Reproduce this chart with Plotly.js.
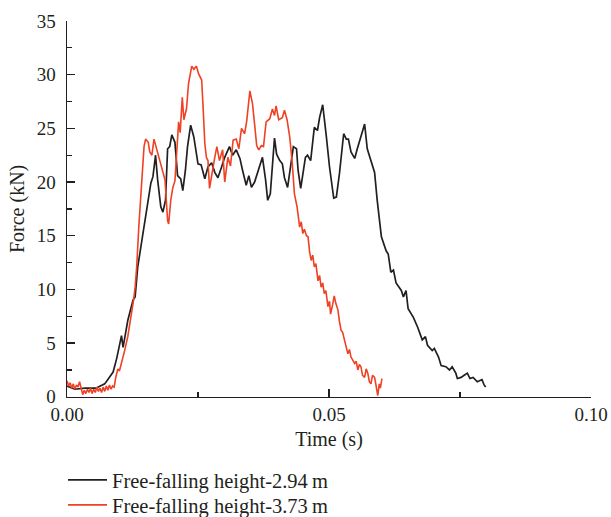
<!DOCTYPE html>
<html>
<head>
<meta charset="utf-8">
<script src="https://cdn.plot.ly/plotly-3.0.1.min.js"></script>
<style>html,body{margin:0;padding:0;background:#fff;}#chart{width:611px;height:517px;}</style>
</head>
<body>
<div id="chart"></div>
<script>
// Series names
const seriesNames = ["Free-falling height-2.94\u2009m", "Free-falling height-3.73\u2009m"];

// Black series: free-falling height 2.94 m (time in s, force in kN)
const blackT = [
0,0.0015,0.0034,0.0055,0.0072,0.0080,0.0088,0.0095,0.0104,0.0107,
0.0116,0.0126,0.0130,0.0135,0.0145,0.0154,0.0160,0.0164,0.0169,0.0173,
0.0179,0.0183,0.0188,0.0192,0.0196,0.0200,0.0206,0.0211,0.0217,0.0221,
0.0226,0.0230,0.0236,0.0242,0.0250,0.0256,0.0263,0.0269,0.0276,0.0282,
0.0288,0.0295,0.0301,0.0310,0.0316,0.0323,0.0330,0.0335,0.0342,0.0347,
0.0352,0.0358,0.0368,0.0373,0.0379,0.0383,0.0388,0.0392,0.0396,0.0400,
0.0406,0.0411,0.0415,0.0421,0.0428,0.0432,0.0438,0.0441,0.0446,0.0450,
0.0455,0.0459,0.0465,0.0472,0.0478,0.0482,0.0488,0.0495,0.0501,0.0509,
0.0514,0.0520,0.0528,0.0533,0.0537,0.0542,0.0549,0.0554,0.0560,0.0568,
0.0573,0.0580,0.0587,0.0592,0.0600,0.0609,0.0613,0.0618,0.0623,0.0628,
0.0634,0.0638,0.0642,0.0647,0.0651,0.0661,0.0669,0.0678,0.0684,0.0688,
0.0697,0.0701,0.0709,0.0714,0.0723,0.0730,0.0735,0.0742,0.0745,0.0752,
0.0758,0.0764,0.0769,0.0775,0.0783,0.0792,0.0796,0.0799];
const blackF = [
1.0,0.7,0.8,0.8,1.2,1.8,2.3,3.6,5.7,4.6,
7.1,9.0,9.3,12.1,15.2,18.0,19.9,20.5,22.5,20.2,
17.7,17.2,18.3,23.1,23.3,24.4,23.7,20.6,20.3,19.2,
21.1,23.3,25.3,24.2,21.7,21.6,20.3,21.4,21.8,20.9,
20.4,21.4,22.3,23.3,22.5,23.0,22.2,21.1,19.7,20.6,
19.5,20.0,21.4,22.3,20.2,18.3,18.9,21.4,24.1,22.6,
22.0,21.7,20.4,19.5,21.8,23.3,23.1,21.1,19.4,20.8,
22.3,22.5,22.0,25.1,24.8,26.0,27.2,24.2,21.4,18.5,
18.6,20.8,24.5,24.0,24.0,22.8,22.2,23.1,24.2,25.4,
23.1,22.0,20.9,18.3,14.9,13.6,13.3,11.6,11.8,10.6,
10.1,9.9,9.3,9.9,8.2,7.4,6.5,5.3,5.6,4.8,
4.3,4.5,3.7,2.9,2.8,2.5,2.8,2.2,1.7,1.8,
2.0,2.2,1.7,1.8,1.4,1.6,1.1,0.9];

// Red series: free-falling height 3.73 m
const redT = [
0,0.0003,0.0006,0.0009,0.0012,0.0015,0.0018,0.0021,0.0024,0.0027,
0.0030,0.0033,0.0036,0.0039,0.0042,0.0045,0.0048,0.0051,0.0054,0.0057,
0.0060,0.0063,0.0066,0.0069,0.0072,0.0075,0.0078,0.0081,0.0084,0.0087,
0.0090,0.0093,0.0097,0.0100,0.0104,0.0110,0.0116,0.0123,0.0127,0.0130,
0.0133,0.0137,0.0142,0.0147,0.0150,0.0155,0.0158,0.0162,0.0166,0.0171,
0.0175,0.0180,0.0187,0.0192,0.0194,0.0198,0.0202,0.0206,0.0209,0.0213,
0.0216,0.0220,0.0223,0.0228,0.0232,0.0238,0.0242,0.0247,0.0251,0.0257,
0.0260,0.0263,0.0266,0.0269,0.0272,0.0278,0.0282,0.0286,0.0291,0.0297,
0.0301,0.0307,0.0312,0.0317,0.0323,0.0328,0.0333,0.0339,0.0343,0.0349,
0.0354,0.0358,0.0362,0.0366,0.0371,0.0375,0.0380,0.0387,0.0392,0.0396,
0.0399,0.0404,0.0411,0.0415,0.0420,0.0425,0.0430,0.0434,0.0439,0.0444,
0.0447,0.0450,0.0453,0.0457,0.0460,0.0463,0.0466,0.0469,0.0472,0.0475,
0.0479,0.0482,0.0485,0.0488,0.0491,0.0494,0.0498,0.0501,0.0503,0.0507,
0.0510,0.0513,0.0517,0.0520,0.0523,0.0526,0.0530,0.0533,0.0536,0.0539,
0.0542,0.0545,0.0549,0.0552,0.0555,0.0558,0.0561,0.0564,0.0568,0.0571,
0.0574,0.0577,0.0580,0.0583,0.0587,0.0590,0.0593,0.0596,0.0598,0.0601];
const redF = [
1.5,1.0,1.3,0.8,1.2,0.7,1.1,0.9,1.4,0.8,
0.2,0.6,0.3,0.7,0.4,0.8,0.3,0.7,0.4,0.9,
0.5,0.8,0.4,0.9,0.5,1.0,0.6,1.1,0.7,1.0,
0.9,1.8,2.6,2.4,3.1,4.3,5.6,7.6,9.0,10.2,
12.1,15.8,19.5,23.3,24.0,23.7,22.8,22.5,24.0,23.1,
22.6,21.7,20.2,16.4,16.1,18.3,19.5,20.1,22.6,25.6,
24.6,27.9,25.8,26.8,29.2,30.8,30.5,30.8,30.1,29.5,
26.7,23.6,22.3,22.0,19.4,21.4,22.3,23.3,22.0,23.0,
20.0,22.3,21.5,23.9,24.0,23.1,25.0,24.5,25.7,28.5,
27.3,25.4,23.4,23.0,23.4,23.3,25.6,25.9,26.8,26.2,
27.1,25.8,26.0,26.7,25.8,24.2,21.7,18.9,17.7,15.8,
16.3,15.2,15.6,15.0,14.9,13.5,12.7,13.2,12.1,12.4,
10.8,11.3,10.2,10.6,9.6,9.9,8.4,8.9,7.7,8.6,
9.4,8.7,8.1,7.0,6.2,6.0,5.0,4.6,4.0,4.4,
3.7,3.4,3.1,3.3,2.5,3.0,2.8,2.0,1.8,2.6,
2.2,1.4,1.2,2.0,1.8,1.0,0.1,1.2,0.8,1.7];

const fontFam = '"Liberation Serif", "Times New Roman", serif';
const txt = '#231f20';

const traces = [
  {x: blackT, y: blackF, type: 'scatter', mode: 'lines', name: seriesNames[0],
   legend: 'legend', line: {color: '#231f20', width: 1.7}},
  {x: redT, y: redF, type: 'scatter', mode: 'lines', name: seriesNames[1],
   legend: 'legend2', line: {color: '#ef4123', width: 1.6}}
];

const legendBase = {
  xref: 'paper', yref: 'container', x: -0.0076, xanchor: 'left', yanchor: 'middle',
  orientation: 'v', font: {family: fontFam, size: 20.5, color: txt},
  bgcolor: 'rgba(0,0,0,0)', itemwidth: 39
};

const layout = {
  width: 611, height: 517,
  margin: {l: 67, r: 20, t: 21, b: 0, pad: 0},
  paper_bgcolor: '#fff', plot_bgcolor: '#fff',
  font: {family: fontFam, size: 19, color: txt},
  showlegend: true,
  legend: Object.assign({}, legendBase, {y: 0.0716}),
  legend2: Object.assign({}, legendBase, {y: 0.0232}),
  xaxis: {
    range: [0, 0.10], dtick: 0.05, tick0: 0, tickformat: '.2f',
    showline: true, linecolor: txt, linewidth: 1.5,
    ticks: 'inside', ticklen: 8, tickwidth: 1.3, tickcolor: txt,
    minor: {dtick: 0.025, ticks: 'inside', ticklen: 5, tickwidth: 1.3, tickcolor: txt},
    showgrid: false, zeroline: false,
    tickfont: {family: fontFam, size: 19, color: txt},
    title: {text: 'Time (s)', font: {family: fontFam, size: 20, color: txt}, standoff: 8}
  },
  yaxis: {
    domain: [0.1440, 1],
    range: [0, 35], dtick: 5, tick0: 0,
    showline: true, linecolor: txt, linewidth: 1.5,
    ticks: 'inside', ticklen: 8, tickwidth: 1.3, tickcolor: txt,
    minor: {dtick: 2.5, ticks: 'inside', ticklen: 5, tickwidth: 1.3, tickcolor: txt},
    showgrid: false, zeroline: false,
    ticklabelstandoff: 6,
    tickfont: {family: fontFam, size: 19, color: txt},
    title: {text: 'Force (kN)', font: {family: fontFam, size: 20, color: txt}, standoff: 6}
  }
};

Plotly.newPlot('chart', traces, layout, {displayModeBar: false, staticPlot: true});
</script>
</body>
</html>
